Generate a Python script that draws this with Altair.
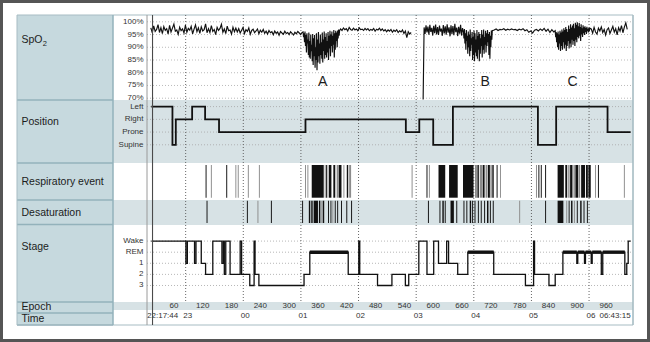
import altair as alt
import pandas as pd

W, H = 486, 310
X_DOMAIN = [4, 1016]          # epochs (30 s) shown across the plot
FONT = "Liberation Sans"

# ---------------- axis / label data ----------------
spo2_ticks = [100, 95, 90, 85, 80, 75, 70]
position_levels = ["Left", "Right", "Prone", "Supine"]
position_codes = [3, 2, 1, 0]
stage_levels = ["Wake", "REM", "1", "2", "3"]
stage_codes = [0, 1, 2, 3, 4]
epoch_ticks = [60, 120, 180, 240, 300, 360, 420, 480, 540, 600, 660, 720, 780, 840, 900, 960]
hour_labels = ["23", "00", "01", "02", "03", "04", "05", "06"]
hour_epochs = [84.5, 204.5, 324.5, 444.5, 564.5, 684.5, 804.5, 924.5]
start_time, end_time = "22:17:44", "06:43:15"
start_epoch, end_epoch = 0, 1011
lights_off_epoch = 15.5
row_titles = ["Position", "Respiratory event", "Desaturation", "Stage", "Epoch", "Time"]

# ---------------- SpO2 trace (start epoch, step, values, segment) ----------------
spo2_pre = [97.6, 95.7, 98.4, 96.2, 97.0, 98.9, 95.8, 97.7, 95.4, 98.1, 96.6, 97.3, 95.2, 98.6, 96.0, 97.5, 99.1, 96.3, 96.8, 95.1,
            97.9, 96.5, 97.2, 95.6, 98.7, 95.9, 97.4, 96.7, 98.2, 95.3, 97.1, 98.8, 96.1, 97.6, 95.5, 98.0, 96.4, 96.9, 99.2, 95.7,
            97.3, 95.8, 98.5, 96.2, 97.0, 95.0, 97.8, 96.6, 97.4, 99.0, 95.9, 97.2, 95.4, 98.3, 96.5, 96.8, 95.2, 97.9, 96.1, 97.5,
            96.0, 97.3, 95.6, 96.7, 97.8, 95.4, 96.9, 96.2, 97.6, 95.1, 96.6, 97.1, 95.7, 96.4, 97.2, 95.3, 96.7, 95.9, 97.0, 95.5,
            96.3, 95.2, 96.6, 95.7, 96.1, 94.9, 96.4, 95.5, 96.0, 94.7, 96.2, 95.6, 95.1, 96.3, 95.4, 95.8, 95.0, 96.1, 95.5, 94.8,
            95.9, 95.3, 96.2, 95.6, 95.0, 95.8]
spo2_a = [96.0, 94.0, 95.5, 92.0, 96.2, 90.5, 94.8, 88.0, 95.5, 91.5,
          93.0, 87.0, 95.8, 86.0, 92.5, 85.5, 95.0, 88.5, 91.0, 84.5,
          95.2, 83.0, 93.5, 86.5, 94.8, 82.0, 90.0, 85.0, 95.5, 81.0,
          93.0, 84.0, 96.0, 86.5, 91.5, 83.5, 95.0, 87.0, 92.0, 85.5,
          95.8, 84.0, 93.0, 88.5, 96.2, 85.5, 94.0, 87.0, 95.5, 86.0,
          92.5, 88.0, 96.0, 85.0, 94.5, 89.5, 96.5, 86.5, 95.0, 90.5,
          96.2, 88.0, 94.5, 91.0, 96.8, 86.0, 95.5, 89.0, 96.5, 92.5,
          95.8, 90.0, 96.6, 93.5, 97.0, 94.5, 96.5]
spo2_mid = [97.2, 96.6, 97.6, 96.9, 97.3, 96.4, 97.8, 97.0, 96.7, 97.5, 96.8, 97.2, 96.5, 97.6, 96.9, 97.1, 96.6, 97.4, 96.8,
            97.3, 96.5, 97.0, 96.7, 97.4, 96.3, 97.1, 96.8, 97.5, 96.6, 97.2, 96.4, 96.9, 96.1, 96.8, 96.3, 97.0, 95.9, 96.7,
            96.2, 96.9, 95.8, 96.5, 96.0, 96.8, 95.4, 96.4, 93.8, 96.1, 95.2, 95.8]
spo2_post_gap = [69.5, 97.8, 95.2, 98.6, 95.8, 98.1, 94.9, 98.8, 96.0, 97.6, 94.6, 98.4, 95.5, 98.9, 95.0, 97.9, 94.8,
                 98.5, 96.2, 97.3, 94.5, 98.7, 95.4, 98.2, 94.9, 99.0, 95.7, 97.8, 94.3, 98.6, 95.1, 98.3, 94.7, 99.2,
                 95.9, 97.7, 94.4, 98.0, 95.3, 98.8, 94.6, 97.5]
spo2_b = [96.0, 93.5, 97.2, 91.5, 95.5, 89.0, 96.8, 92.5, 94.5, 87.5,
          96.2, 90.0, 95.0, 86.5, 97.0, 88.5, 93.5, 91.0, 96.0, 85.0,
          94.0, 87.0, 96.5, 84.5, 95.5, 88.0, 93.0, 86.5, 96.8, 85.5,
          94.5, 89.0, 96.0, 84.5, 95.2, 87.5, 93.5, 90.5, 96.8, 86.0,
          95.0, 89.0, 97.0, 87.5, 94.0, 91.0, 96.5, 88.0, 95.5, 90.5,
          96.8, 92.0, 95.2, 87.0, 96.0, 85.5, 94.5, 90.0, 96.6, 93.0, 96.5]
spo2_flat = [96.8, 97.2, 96.6, 97.0, 96.9, 97.3, 96.7, 97.1, 96.8, 97.2, 96.9, 97.0, 96.6, 97.1, 96.8, 97.3, 96.5, 96.9,
             95.9, 96.4, 95.6, 96.7, 97.0, 96.4, 97.2, 96.6, 97.4, 96.3, 97.1, 95.8, 96.9, 96.0]
spo2_c = [96.5, 94.0, 96.0, 92.0, 95.5, 90.0, 96.2, 89.0, 95.0, 91.5,
          96.5, 88.5, 95.8, 90.5, 97.0, 89.0, 96.2, 92.0, 97.5, 89.5,
          96.8, 91.0, 98.0, 88.5, 97.2, 90.5, 96.0, 92.5, 98.5, 89.5,
          97.2, 91.5, 99.0, 90.0, 97.8, 93.0, 98.5, 91.0, 99.2, 92.5,
          97.5, 90.5, 99.6, 93.0, 98.8, 92.0, 99.8, 94.0, 98.2, 93.5,
          99.5, 94.5, 98.0, 92.5, 99.0, 95.0, 97.5, 94.0, 98.6, 95.5,
          97.8, 94.8, 98.2, 96.0, 97.5, 95.2, 98.0, 96.4, 97.2, 95.8,
          97.6, 96.2, 97.5]
spo2_end = [97.2, 95.5, 97.8, 96.0, 95.2, 97.5, 96.4, 98.0, 95.8, 97.0, 94.8, 96.9, 97.6, 95.4, 96.8, 98.2, 95.9, 97.3,
            94.9, 97.7, 96.3, 98.5, 95.7, 97.9, 99.6, 97.0]
spo2_segments = [(12, 3, spo2_pre, "a"), (329, 1, spo2_a, "a"), (407, 3, spo2_mid, "a"),
                 (579, 2, spo2_post_gap, "b"), (663, 1, spo2_b, "b"), (727, 4, spo2_flat, "b"),
                 (854, 1, spo2_c, "b"), (929, 3, spo2_end, "b")]
annot_text = ["A", "B", "C"]
annot_epoch = [370, 708, 890]
annot_spo2 = [76.5, 76.5, 76.5]

# ---------------- body position (step starts) ----------------
pos_start = [13, 57, 64, 98, 125, 154, 334, 543, 571, 600, 641, 818, 856, 963, 1011]
pos_label = ["Left", "Supine", "Right", "Left", "Right", "Prone", "Right", "Prone", "Right", "Supine",
             "Left", "Supine", "Left", "Prone", "Prone"]

# ---------------- respiratory events (start epoch, length, shade) ----------------
resp_start = [126, 137, 169, 188, 193, 214, 237,
              333, 338, 347, 374, 377, 380, 383, 392, 399, 403, 413, 420, 425,
              555, 586, 591, 611, 633, 662, 687, 692, 697, 703, 709, 714, 719, 723, 732, 739,
              814, 819, 824, 833, 859, 875, 881, 885, 892, 896, 903, 908, 918, 923, 937, 943, 997]
resp_len = [2, 2, 2, 2, 2, 2, 2,
            2, 2, 25, 2, 2, 2, 5, 4, 3, 6, 2, 3, 4,
            2, 2, 2, 14, 18, 22, 4, 3, 5, 4, 4, 4, 3, 3, 2, 2,
            2, 2, 2, 2, 13, 4, 3, 5, 3, 6, 3, 8, 4, 5, 2, 2, 2]
resp_shade = ["k", "g", "k", "g", "g", "g", "g",
              "g", "g", "k", "g", "k", "g", "k", "k", "g", "k", "g", "k", "g",
              "g", "k", "g", "k", "k", "k", "g", "k", "g", "k", "g", "k", "g", "k", "k", "g",
              "g", "k", "k", "k", "k", "k", "g", "k", "g", "k", "g", "k", "k", "k", "g", "k", "g"]

# ---------------- desaturation events ----------------
desat_start = [128, 212, 234, 262, 327, 341, 346, 351, 362, 367, 370, 381, 386, 390, 395, 400, 408, 419, 429,
               589, 613, 619, 624, 636, 648, 663, 669, 676, 681, 686, 693, 699, 706, 712, 718, 724, 779, 833,
               859, 877, 882, 887, 893, 899, 906, 913, 920]
desat_len = [2, 2, 2, 2, 2, 3, 3, 9, 3, 2, 3, 2, 2, 2, 2, 2, 2, 2, 2,
             2, 2, 3, 2, 7, 2, 2, 2, 3, 2, 2, 2, 2, 2, 3, 2, 2, 2, 2,
             12, 2, 2, 3, 2, 2, 3, 2, 2]
desat_shade = ["k", "k", "g", "k", "k", "k", "k", "k", "k", "g", "k", "k", "k", "g", "k", "k", "k", "k", "k",
               "k", "k", "k", "k", "k", "k", "k", "k", "k", "k", "k", "k", "k", "k", "k", "k", "k", "g", "k",
               "k", "g", "k", "k", "g", "k", "k", "k", "k"]

# ---------------- sleep stage (step starts) ----------------
stage_start = [13, 85, 88, 103, 106, 117, 126, 141, 160, 163, 165, 168, 177, 198, 201, 218, 227, 229, 237, 331,
               343, 423, 445, 447, 484, 514, 542, 549, 570, 587, 601, 611, 628, 632, 651, 672, 726, 792, 809, 811,
               841, 854, 870, 899, 901, 915, 917, 929, 931, 950, 953, 999, 1003, 1006, 1011]
stage_label = ["Wake", "1", "Wake", "1", "Wake", "1", "2", "Wake", "1", "Wake", "2", "Wake", "2", "Wake", "2", "3",
               "Wake", "2", "3", "2", "REM", "2", "Wake", "2", "3", "2", "3", "2", "Wake", "2", "Wake", "1", "Wake",
               "1", "2", "REM", "2", "3", "Wake", "2", "3", "2", "REM", "1", "REM", "1", "REM", "1", "REM", "2",
               "REM", "2", "1", "Wake", "Wake"]

# ---------------- styling ----------------
TEAL = "#c6d9de"
TEAL_LINE = "#93b2bb"
ROW_GRAY = "#d7e2e5"
TEXT = "#1c1c1c"
TICK = "#333333"

one = pd.DataFrame({"k": [0]})


def xscale():
    return alt.Scale(domain=X_DOMAIN, nice=False, zero=False)


def X(field):
    return alt.X(field, type="quantitative", scale=xscale(), axis=None)


def Yq(field, domain, reverse=False):
    if reverse:
        sc = alt.Scale(domain=domain, nice=False, zero=False, reverse=True)
    else:
        sc = alt.Scale(domain=domain, nice=False, zero=False)
    return alt.Y(field, type="quantitative", scale=sc, axis=None)


SPO2_DOM = [-19.04, 102.67]
POS_DOM = [-14.156, 10.196]
STAGE_DOM = [-20.37, 7.56]


def box(x1, x2, y1, y2, **kw):
    return alt.Chart(one).mark_rect(**kw).encode(
        x=alt.value(x1), x2=alt.value(x2), y=alt.value(y1), y2=alt.value(y2))


def hline(y, x1, x2, **kw):
    return alt.Chart(one).mark_rule(**kw).encode(x=alt.value(x1), x2=alt.value(x2), y=alt.value(y))


def vline(x, y1, y2, **kw):
    return alt.Chart(one).mark_rule(**kw).encode(x=alt.value(x), y=alt.value(y1), y2=alt.value(y2))


def label(txt, x, y, **kw):
    return alt.Chart(one).mark_text(text=txt, font=FONT, **kw).encode(x=alt.value(x), y=alt.value(y))


layers = []

# ---- backgrounds ----
layers.append(box(-147, W + 17, -15, H + 17, fill="white"))
layers.append(box(-130, -34, 0, H, fill=TEAL))
for y1, y2 in [(85, 148), (185, 210), (287, 295)]:
    layers.append(box(-34, W, y1, y2, fill=ROW_GRAY))
for yb in [85, 148, 185, 209.5, 287, 298, 310]:
    layers.append(hline(yb, -130, -34, color=TEAL_LINE, strokeWidth=1.5))
layers.append(box(-130, W, 0, H, fill=None, stroke="#a7bcc3", strokeWidth=1))
layers.append(vline(-34, 0, H, color=TEAL_LINE, strokeWidth=1.5))

# ---- row titles ----
layers.append(label("SpO", -125.5, 25, fontSize=10.5, align="left", baseline="middle", color=TEXT))
layers.append(label("2", -104.3, 29, fontSize=7.5, align="left", baseline="middle", color=TEXT))
for t, yc in zip(row_titles, [107, 167.3, 198.3, 232.3, 292, 304.3]):
    layers.append(label(t, -125.5, yc, fontSize=10.5, align="left", baseline="middle", color=TEXT))

# ---- SpO2 row ----
spo2_tick_df = pd.DataFrame({"p": spo2_ticks, "lab": [f"{t}%" for t in spo2_ticks]})
layers.append(alt.Chart(spo2_tick_df).mark_rule(color="#aaaaaa", strokeDash=[1, 2], strokeWidth=0.8).encode(
    y=Yq("p", SPO2_DOM), x=alt.value(0), x2=alt.value(W)))
layers.append(alt.Chart(spo2_tick_df).mark_text(font=FONT, fontSize=8, align="right", baseline="middle", color=TICK).encode(
    y=Yq("p", SPO2_DOM), x=alt.value(-3.5), text="lab:N"))

rows = []
for s0, step, vals, grp in spo2_segments:
    for i, v in enumerate(vals):
        rows.append({"e": s0 + i * step, "p": v, "g": grp})
spo2_df = pd.DataFrame(rows)

# ---- Position row ----
pos_tick_df = pd.DataFrame({"v": position_codes, "lab": position_levels})
pos_map = dict(zip(position_levels, position_codes))
pos_df = pd.DataFrame({"e": pos_start, "v": [pos_map[p] for p in pos_label]})
layers.append(alt.Chart(pos_tick_df).mark_rule(color="#a5a5a5", strokeDash=[1, 2], strokeWidth=0.8).encode(
    y=Yq("v", POS_DOM), x=alt.value(0), x2=alt.value(W)))
layers.append(alt.Chart(pos_tick_df).mark_text(font=FONT, fontSize=8, align="right", baseline="middle", color=TICK).encode(
    y=Yq("v", POS_DOM), x=alt.value(-3.5), text="lab:N"))

# ---- Stage row ----
stage_tick_df = pd.DataFrame({"v": stage_codes, "lab": stage_levels})
stage_map = dict(zip(stage_levels, stage_codes))
stage_df = pd.DataFrame({"e": stage_start, "v": [stage_map[s] for s in stage_label]})
rem_rows = [{"s": stage_start[i], "s2": stage_start[i + 1], "v": stage_map["REM"]}
            for i in range(len(stage_start) - 1) if stage_label[i] == "REM"]
rem_df = pd.DataFrame(rem_rows)
layers.append(alt.Chart(stage_tick_df).mark_rule(color="#a5a5a5", strokeDash=[1, 2], strokeWidth=0.8).encode(
    y=Yq("v", STAGE_DOM, True), x=alt.value(0), x2=alt.value(W)))
layers.append(alt.Chart(stage_tick_df).mark_text(font=FONT, fontSize=8, align="right", baseline="middle", color=TICK).encode(
    y=Yq("v", STAGE_DOM, True), x=alt.value(-3.5), text="lab:N"))

# ---- hour grid lines ----
hour_df = pd.DataFrame({"e": hour_epochs, "lab": hour_labels})
layers.append(alt.Chart(hour_df).mark_rule(color="#555555", strokeDash=[1, 2], strokeWidth=0.9).encode(
    x=X("e"), y=alt.value(0), y2=alt.value(287)))

# ---- events ----
shade_color = alt.Color("shade:N", scale=alt.Scale(domain=["k", "g"], range=["#111111", "#8c8c8c"]), legend=None)
resp_df = pd.DataFrame({"s": resp_start, "len": resp_len, "shade": resp_shade})
resp_df["s2"] = resp_df["s"] + resp_df["len"]
desat_df = pd.DataFrame({"s": desat_start, "len": desat_len, "shade": desat_shade})
desat_df["s2"] = desat_df["s"] + desat_df["len"]
layers.append(alt.Chart(resp_df).mark_rect().encode(
    x=X("s"), x2="s2", y=alt.value(150), y2=alt.value(182.7), color=shade_color))
layers.append(alt.Chart(desat_df).mark_rect().encode(
    x=X("s"), x2="s2", y=alt.value(185.7), y2=alt.value(208), color=shade_color))

# ---- data lines ----
layers.append(alt.Chart(spo2_df).mark_line(color="#111111", strokeWidth=1.15).encode(
    x=X("e"), y=Yq("p", SPO2_DOM), detail="g:N"))
annot_df = pd.DataFrame({"e": annot_epoch, "p": annot_spo2, "t": annot_text})
layers.append(alt.Chart(annot_df).mark_text(font=FONT, fontSize=14, color=TEXT, baseline="middle").encode(
    x=X("e"), y=Yq("p", SPO2_DOM), text="t:N"))
layers.append(alt.Chart(pos_df).mark_line(color="#111111", strokeWidth=1.8, interpolate="step-after").encode(
    x=X("e"), y=Yq("v", POS_DOM)))
layers.append(alt.Chart(stage_df).mark_line(color="#111111", strokeWidth=1.3, interpolate="step-after").encode(
    x=X("e"), y=Yq("v", STAGE_DOM, True)))
layers.append(alt.Chart(rem_df).mark_rule(color="#111111", strokeWidth=3.4).encode(
    x=X("s"), x2="s2", y=Yq("v", STAGE_DOM, True)))

# ---- epoch & time labels ----
epoch_df = pd.DataFrame({"e": epoch_ticks, "lab": [str(v) for v in epoch_ticks]})
layers.append(alt.Chart(epoch_df).mark_text(font=FONT, fontSize=8, color=TICK, baseline="middle").encode(
    x=X("e"), y=alt.value(291), text="lab:N"))
layers.append(alt.Chart(hour_df).mark_text(font=FONT, fontSize=8, color=TICK, baseline="middle", dx=2).encode(
    x=X("e"), y=alt.value(300.5), text="lab:N"))
layers.append(alt.Chart(pd.DataFrame({"e": [start_epoch], "lab": [start_time]})).mark_text(
    font=FONT, fontSize=8, color=TICK, baseline="middle", align="left", dx=2).encode(
    x=X("e"), y=alt.value(300.5), text="lab:N"))
layers.append(alt.Chart(pd.DataFrame({"e": [end_epoch], "lab": [end_time]})).mark_text(
    font=FONT, fontSize=8, color=TICK, baseline="middle", align="right").encode(
    x=X("e"), y=alt.value(300.5), text="lab:N"))

# ---- plot borders & lights-off marker ----
layers.append(vline(0, 0, H, color="#9a9a9a", strokeWidth=1))
layers.append(vline(W, 0, H, color="#a7bcc3", strokeWidth=1.2))
layers.append(alt.Chart(pd.DataFrame({"e": [lights_off_epoch]})).mark_rule(color="#4a4a4a", strokeWidth=1.1).encode(
    x=X("e"), y=alt.value(0), y2=alt.value(H)))

# ---- outer frame ----
layers.append(box(-145.5, W + 15.5, -13.5, H + 15.5, fill=None, stroke="#555555", strokeWidth=3))

chart = alt.layer(*layers).resolve_scale(y="independent").properties(
    width=W, height=H,
    autosize=alt.AutoSizeParams(type="none"),
    padding={"left": 147, "top": 15, "right": 17, "bottom": 17},
    background="white",
).configure_view(stroke=None)

chart.save("out.html", embed_options={"renderer": "svg", "actions": False})
